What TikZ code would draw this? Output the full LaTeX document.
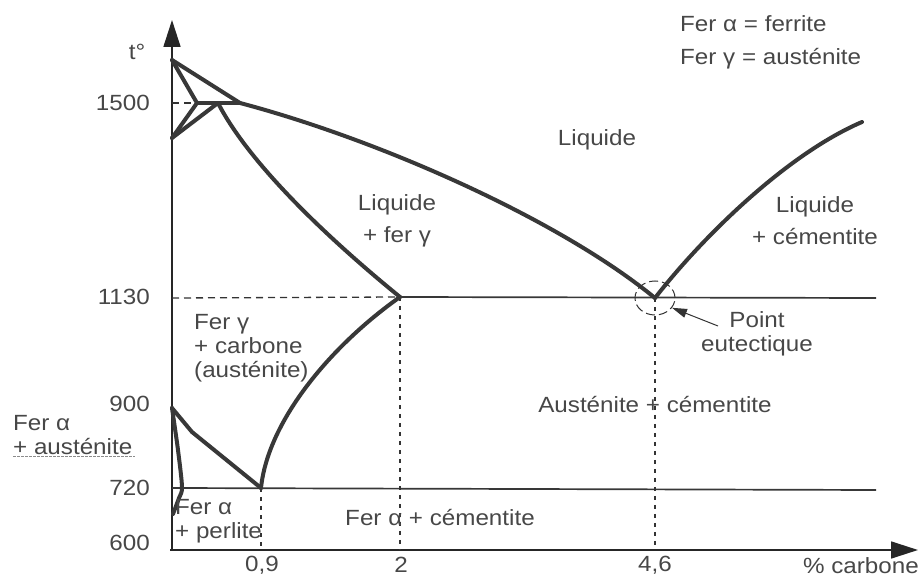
\documentclass[tikz,border=0pt]{standalone}
\usepackage{fontspec}
\setmainfont[FakeStretch=1.1]{Liberation Sans}
\usetikzlibrary{arrows.meta,shapes.geometric}

\tikzset{
  phase/.style={line width=4pt, draw=black!78, line cap=round, line join=round},
  axis/.style={line width=1.7pt, draw=black!85, -{Triangle[length=27pt,width=17pt]}},
  level/.style={line width=1.7pt, draw=black!78},
  guide/.style={line width=1.3pt, draw=black!80, dash pattern=on 7pt off 5pt},
  drop/.style={line width=1.8pt, draw=black!80, dash pattern=on 4pt off 5pt},
  ring/.style={ellipse, draw=black!80, line width=1pt, dash pattern=on 9pt off 4pt,
    minimum width=40pt, minimum height=34pt, inner sep=0pt},
  pointer/.style={line width=1pt, draw=black!80, -{Triangle[length=15pt,width=9pt]}},
  lbl/.style={text=black!72, font=\fontsize{22}{24}\selectfont, inner sep=0pt},
}

\begin{document}
\begin{tikzpicture}[x=1pt,y=-1pt]
\useasboundingbox (0,0) rectangle (922,577);

% axes
\draw[axis] (172,550) -- (172,20);
\draw[axis] (170,550) -- (918,550);

% points of the diagram
\coordinate (dtop) at (172,60);
\coordinate (dlow) at (172,138);
\coordinate (pA) at (197,103);
\coordinate (pB) at (218,103);
\coordinate (pC) at (240,103);
\coordinate (E) at (400,297);
\coordinate (eut) at (655,298);
\coordinate (S) at (261,488);
\coordinate (G) at (172,408);

% levels
\draw[guide] (172,103) -- (pA);
\draw[guide] (172,298) -- (E);
\draw[level] (E) -- (876,298);
\draw[level] (172,488) -- (876,490);

% verticals
\draw[drop] (S) -- (261,550);
\draw[drop] (E) -- (400,550);
\draw[drop] (eut) -- (655,550);

% delta corner
\draw[phase] (dtop) -- (pA);
\draw[phase] (dtop) -- (pC);
\draw[phase] (dlow) -- (pA);
\draw[phase] (dlow) -- (pB);
\draw[phase] (pA) -- (pC);

% liquidus and solidus
\draw[phase] (pC) .. controls (380,140) and (560,220) .. (eut);
\draw[phase] (eut) .. controls (700,240) and (785,155) .. (862,122);
\draw[phase] (pB) .. controls (250,165) and (330,240) .. (E);

% solid state
\draw[phase] (E) .. controls (332,345) and (268,420) .. (S);
\draw[phase] (G) -- (192,432) -- (S);
\draw[phase] plot[smooth] coordinates {(172,408) (178,450) (182,487) (179,498) (173,514)};
\draw[black!45, line width=1pt, dash pattern=on 3pt off 1pt] (13,457) -- (135,457);

% eutectic point
\node[ring] (ring) at (eut) {};
\node[lbl, align=center] (pt) at (757,334) {Point\\eutectique};
\coordinate (tail) at (718,326);
\draw[pointer] (tail) -- (ring.-30);

% axis labels
\node[lbl] (tdeg) at (137,52) {t°};
\node[lbl, anchor=east] (y1500) at (150,103) {1500};
\node[lbl, anchor=east] (y1130) at (150,297) {1130};
\node[lbl, anchor=east] (y900) at (150,404) {900};
\node[lbl, anchor=east] (y720) at (150,488) {720};
\node[lbl, anchor=east] (y600) at (150,543) {600};
\node[lbl] (x09) at (262,565) {0,9};
\node[lbl] (x2) at (401,565) {2};
\node[lbl] (x46) at (655,565) {4,6};
\node[lbl, anchor=east] (xname) at (919,566) {\% carbone};

% key
\node[lbl, anchor=west] (key1) at (680,24) {Fer α = ferrite};
\node[lbl, anchor=west] (key2) at (680,59) {Fer γ = austénite};

% phase names
\node[lbl] (liq) at (597,140) {Liquide};
\node[lbl, align=center] (liqg) at (397,221) {Liquide\\[8pt]+ fer γ};
\node[lbl, align=center] (liqc) at (815,221) {Liquide\\[8pt]+ cémentite};
\node[lbl, align=left, anchor=north west] (aust) at (194,314) {Fer γ\\+ carbone\\(austénite)};
\node[lbl, align=center] (ac) at (655,405) {Austénite + cémentite};
\node[lbl, align=left, anchor=west] (fa) at (13,435) {Fer α\\+ austénite};
\node[lbl, align=left, anchor=west] (fp) at (175,521) {Fer α\\+ perlite};
\node[lbl] (fc) at (440,518) {Fer α + cémentite};
\end{tikzpicture}
\end{document}
